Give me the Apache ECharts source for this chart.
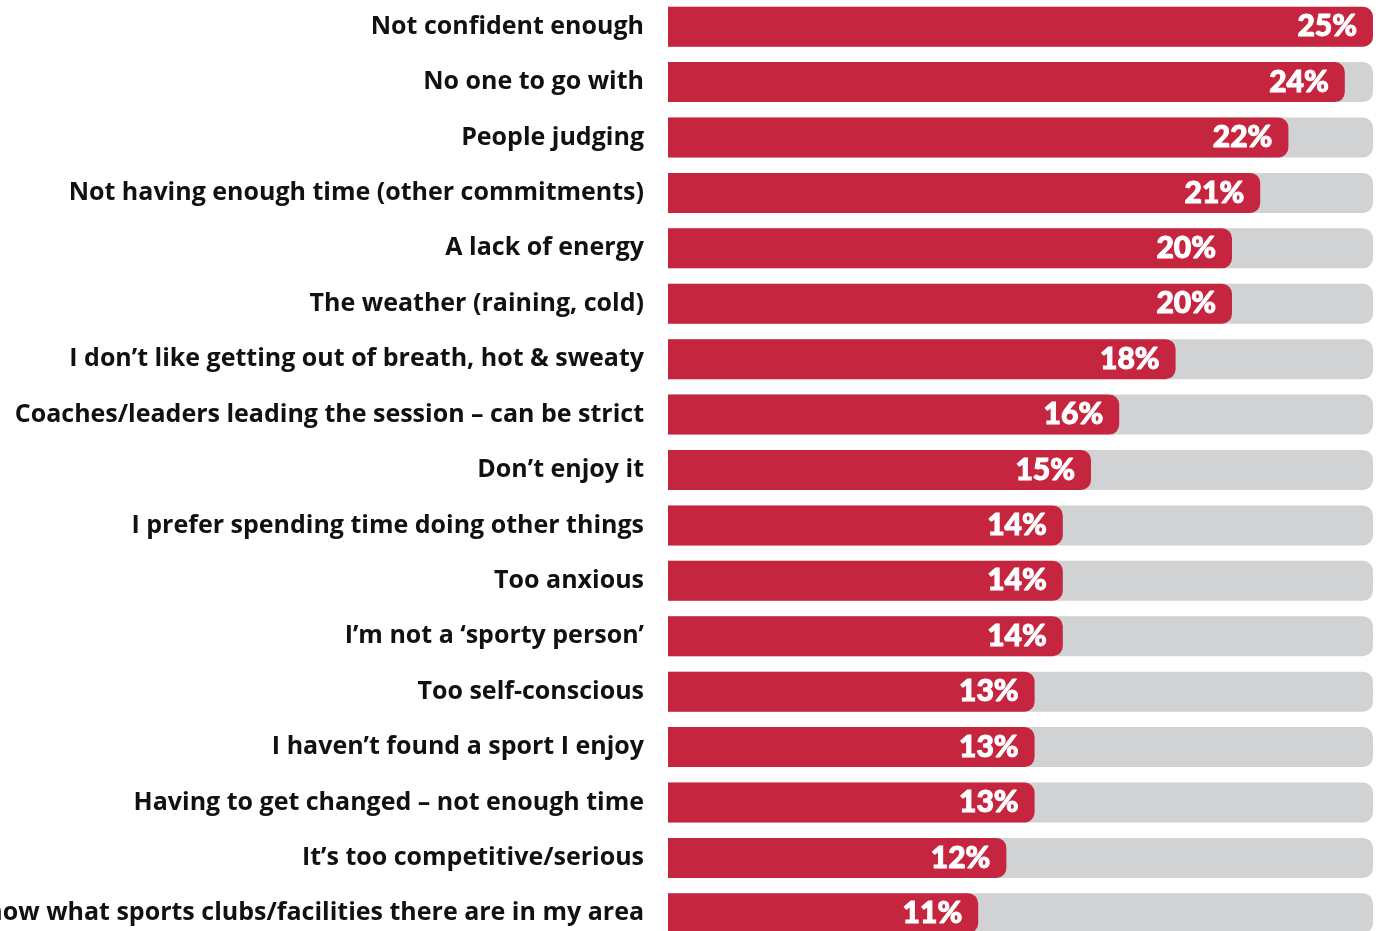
<!DOCTYPE html>
<html>
<head>
<meta charset="utf-8">
<script src="https://cdn.jsdelivr.net/npm/echarts@6/dist/echarts.min.js"></script>
<style>
  html, body { margin: 0; padding: 0; background: #ffffff; }
  #chart { width: 1381px; height: 931px; }
</style>
</head>
<body>
<div id="chart"></div>
<script>
// Reasons given for not taking part in sport
const reasons = [
  "Not confident enough",
  "No one to go with",
  "People judging",
  "Not having enough time (other commitments)",
  "A lack of energy",
  "The weather (raining, cold)",
  "I don\u2019t like getting out of breath, hot & sweaty",
  "Coaches/leaders leading the session \u2013 can be strict",
  "Don\u2019t enjoy it",
  "I prefer spending time doing other things",
  "Too anxious",
  "I\u2019m not a \u2018sporty person\u2019",
  "Too self-conscious",
  "I haven\u2019t found a sport I enjoy",
  "Having to get changed \u2013 not enough time",
  "It\u2019s too competitive/serious",
  "I don\u2019t know what sports clubs/facilities there are in my area"
];
const percentages = [25, 24, 22, 21, 20, 20, 18, 16, 15, 14, 14, 14, 13, 13, 13, 12, 11];
const scaleMax = 25;

const chart = echarts.init(document.getElementById('chart'), null, { renderer: 'canvas' });
chart.setOption({
  animation: false,
  backgroundColor: '#ffffff',
  grid: { left: 668, right: 8, top: -1, height: 942, containLabel: false, outerBoundsMode: 'none' },
  xAxis: {
    type: 'value', min: 0, max: scaleMax,
    show: false
  },
  yAxis: {
    type: 'category',
    data: reasons,
    inverse: true,
    axisLine: { show: false },
    axisTick: { show: false },
    splitLine: { show: false },
    axisLabel: {
      margin: 24,
      color: '#111111',
      fontFamily: 'Open Sans',
      fontWeight: 'bold',
      fontSize: 25
    }
  },
  series: [{
    type: 'bar',
    data: percentages,
    barWidth: 40,
    showBackground: true,
    backgroundStyle: { color: '#d1d2d4', borderRadius: [0, 10, 10, 0] },
    itemStyle: { color: '#c5253f', borderRadius: [0, 10, 10, 0] },
    label: {
      show: true,
      position: 'insideRight',
      distance: 16,
      formatter: '{c}%',
      color: '#ffffff',
      textBorderColor: '#ffffff',
      textBorderWidth: 1,
      fontFamily: 'Lato',
      fontWeight: 900,
      fontSize: 30
    }
  }]
});
</script>
</body>
</html>
